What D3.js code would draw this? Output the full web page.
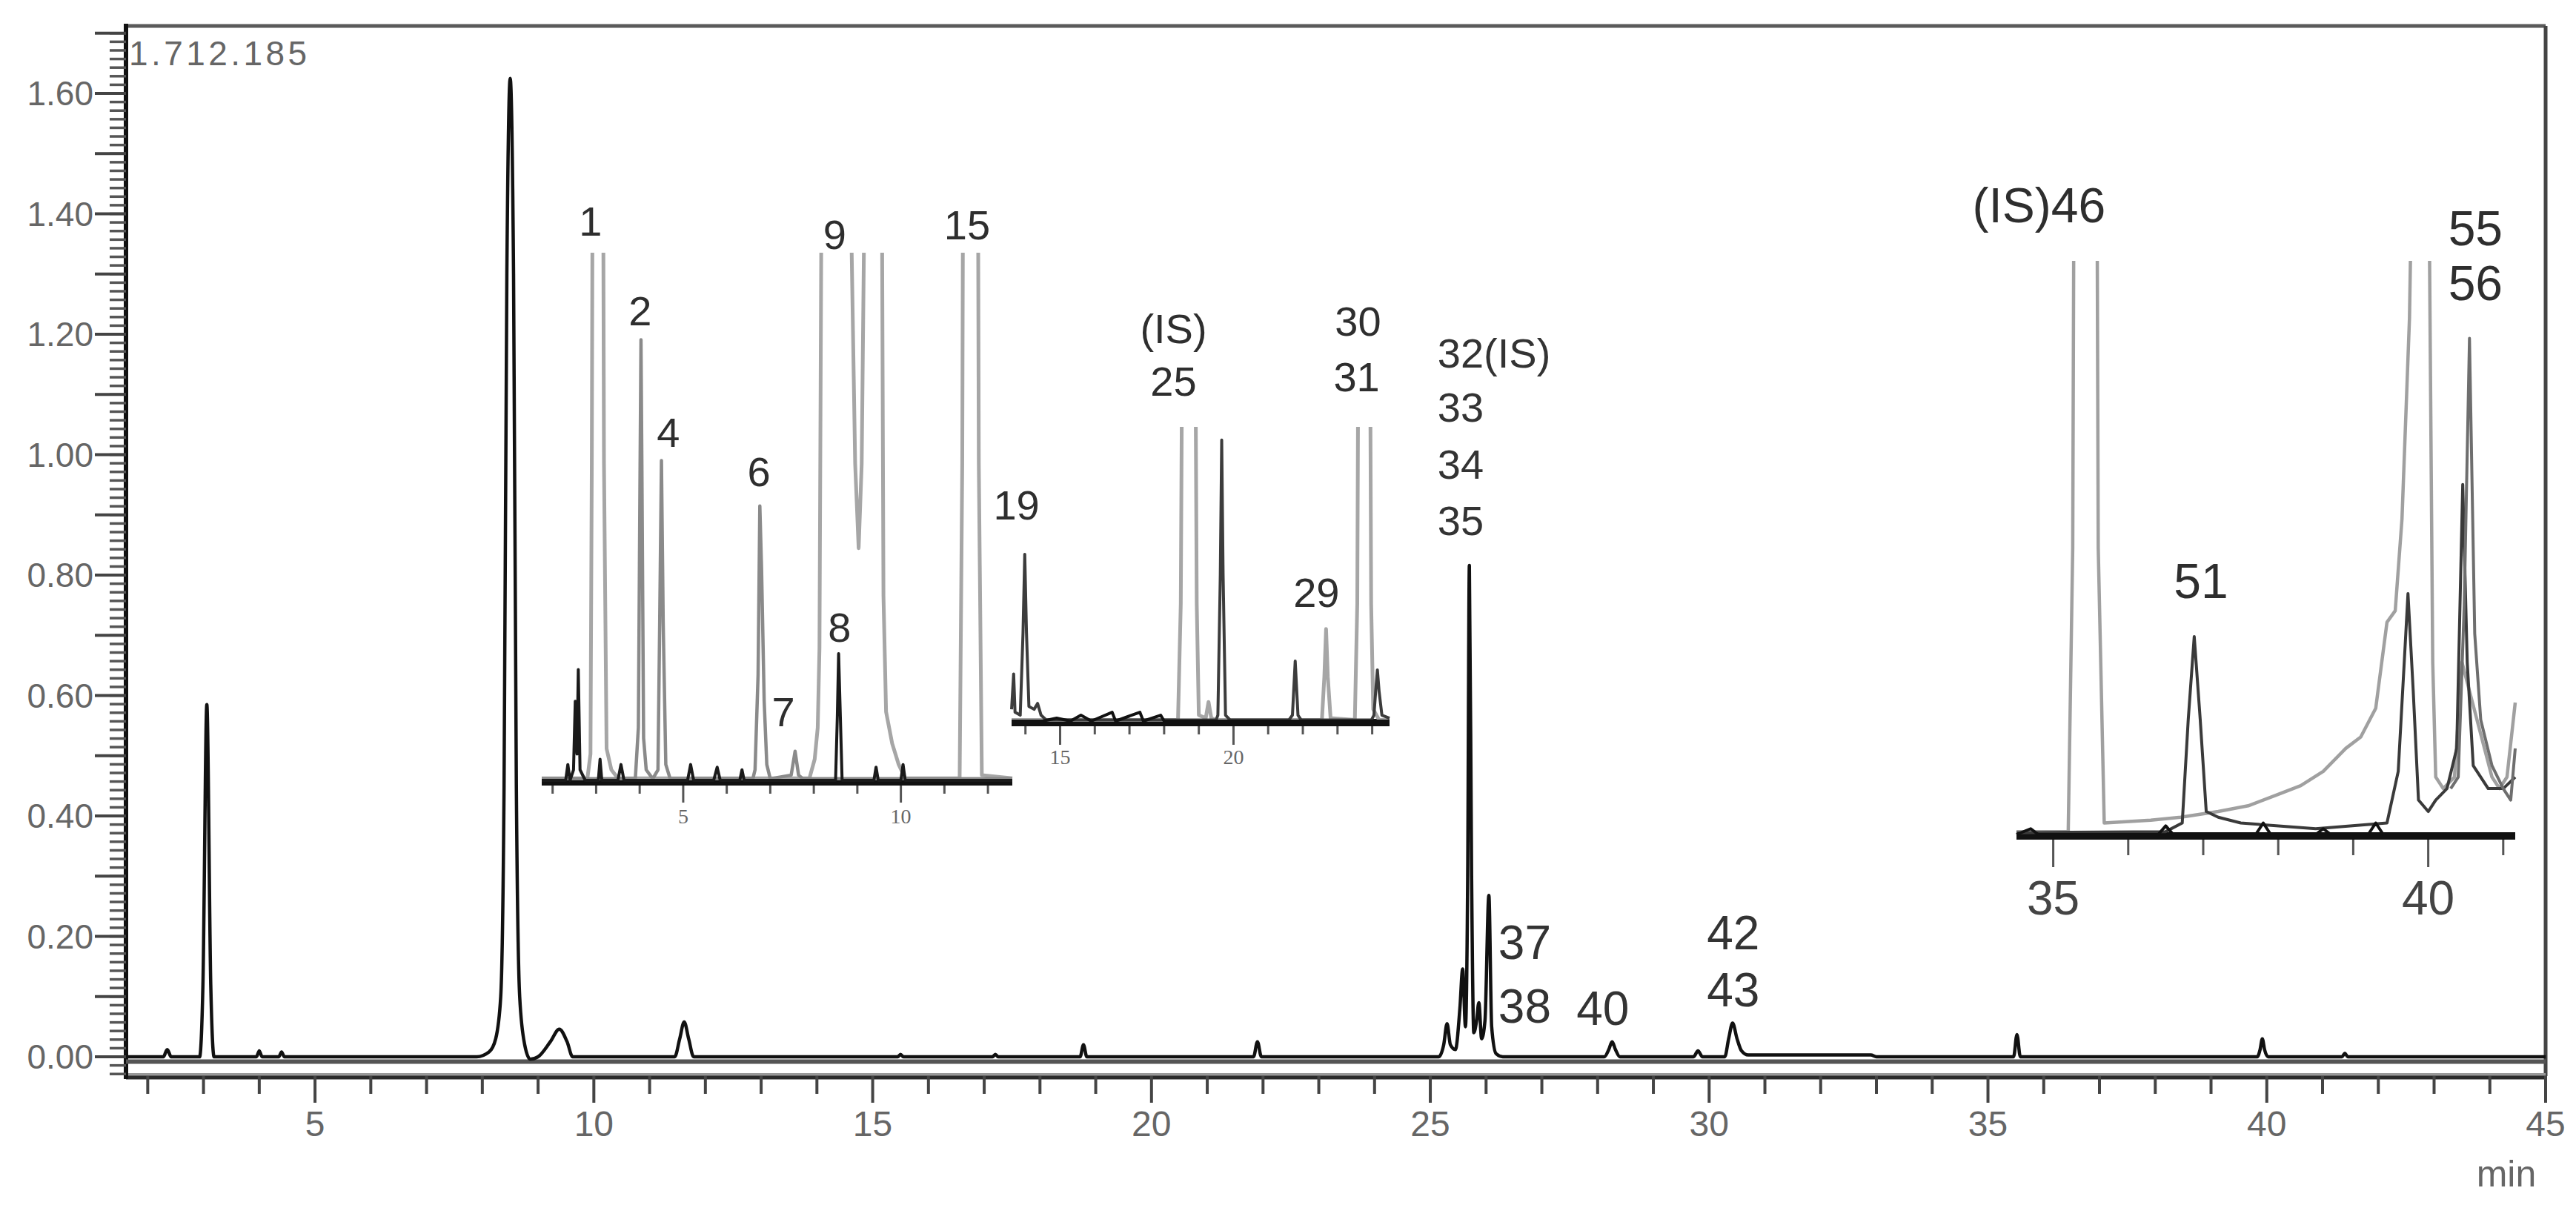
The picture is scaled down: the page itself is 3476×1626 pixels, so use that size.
<!DOCTYPE html>
<html><head><meta charset="utf-8">
<script src="https://cdn.jsdelivr.net/npm/d3@7/dist/d3.min.js"></script>
<style>body{margin:0;background:#fff}svg{display:block}</style>
</head><body>
<svg id="c" width="3476" height="1626"></svg>
<script>
// ---------- DATA ----------
const yMajorTicks = [0.00,0.20,0.40,0.60,0.80,1.00,1.20,1.40,1.60];
const yMidTicks = [0.10,0.30,0.50,0.70,0.90,1.10,1.30,1.50,1.70];
const xTickLabels = [5,10,15,20,25,30,35,40,45];
const topValueLabel = "1.712.185";
const xUnit = "min";

// main chromatogram [time(min), intensity]
const mainTrace = [
[1.61,0],[2.28,0],[2.35,0.012],[2.42,0],[2.93,0],[2.99,0.12],[3.06,0.585],[3.13,0.12],[3.19,0],
[3.95,0],[4.0,0.01],[4.05,0],[4.35,0],[4.4,0.008],[4.45,0],[7.9,0],[8.12,0.008],[8.24,0.03],[8.33,0.1],
[8.39,0.45],[8.44,1.3],[8.5,1.625],[8.56,1.3],[8.61,0.45],[8.67,0.1],[8.76,0.02],[8.86,-0.004],[9.0,0],
[9.22,0.025],[9.38,0.046],[9.52,0.025],[9.62,0],[11.45,0],[11.54,0.03],[11.62,0.058],[11.7,0.03],[11.79,0],
[15.45,0],[15.5,0.004],[15.55,0],[17.15,0],[17.2,0.004],[17.25,0],[18.72,0],[18.78,0.02],[18.84,0],
[21.83,0],[21.9,0.025],[21.97,0],[25.15,0],[25.24,0.02],[25.3,0.055],[25.36,0.02],[25.45,0.012],
[25.53,0.08],[25.58,0.146],[25.63,0.05],[25.67,0.3],[25.7,0.816],[25.74,0.3],[25.78,0.04],[25.83,0.06],
[25.87,0.09],[25.92,0.03],[25.98,0.06],[26.05,0.268],[26.1,0.05],[26.18,0.005],[26.3,0],
[28.12,0],[28.2,0.012],[28.26,0.025],[28.32,0.012],[28.4,0],[29.72,0],[29.8,0.01],[29.88,0],
[30.28,0],[30.35,0.03],[30.42,0.056],[30.5,0.03],[30.58,0.01],[30.7,0.003],[32.9,0.003],[33.0,0],
[35.46,0],[35.52,0.037],[35.58,0],[39.83,0],[39.88,0.012],[39.92,0.03],[39.96,0.012],[40.02,0],
[41.35,0],[41.4,0.006],[41.45,0],[45,0]];
const mainShadow = [[1.61,-0.008],[45,-0.008]];

const mainStackLabels = [["32(IS)",25.13,1.169],["33",25.13,1.079],["34",25.13,0.984],["35",25.13,0.891]];
const mainPeakLabels = [["37",26.22,0.189],["38",26.22,0.084],["40",27.62,0.08],["42",29.96,0.205],["43",29.96,0.111]];

// inset 1 (2 - 12.5 min)
const inset1Ticks = [2,3,4,5,6,7,8,9,10,11,12];
const inset1TickLabels = [5,10];
const inset1Light = [[1.75,0.004],[2.8,0.004],[2.87,0.05],[2.9,0.6],[2.93,1.5],[3.04,2.2],[3.15,1.5],[3.18,0.6],[3.24,0.06],[3.35,0.02],[3.5,0.004],
[7.9,0.004],[8.02,0.04],[8.09,0.1],[8.13,0.25],[8.17,1.0],[8.2,1.6],[8.5,2.5],[8.8,1.6],[8.87,1.0],[8.95,0.6],[9.03,0.44],[9.1,0.6],[9.15,1.0],
[9.2,1.6],[9.36,2.2],[9.52,1.6],[9.57,1.0],[9.6,0.35],[9.66,0.13],[9.8,0.07],[9.95,0.03],[10.1,0.004],
[11.35,0.004],[11.41,0.6],[11.44,1.5],[11.6,2.2],[11.76,1.5],[11.79,0.6],[11.86,0.01],[12.56,0.004]];
const inset1Mid = [[1.75,0.003],[3.9,0.003],[3.97,0.1],[4.01,0.6],[4.03,0.835],[4.05,0.6],[4.09,0.08],[4.15,0.02],[4.3,0.003],
[4.42,0.02],[4.46,0.3],[4.5,0.606],[4.54,0.3],[4.6,0.03],[4.7,0.003],[6.6,0.003],[6.65,0.02],[6.72,0.2],[6.76,0.52],[6.8,0.4],[6.86,0.15],[6.92,0.03],[7.0,0.003],
[7.48,0.01],[7.57,0.055],[7.65,0.01],[7.75,0.003],[12.56,0.003]];
const inset1Dark = [[1.75,0],[2.3,0],[2.35,0.03],[2.4,0],[2.48,0.02],[2.52,0.15],[2.56,0.05],[2.59,0.21],[2.63,0.02],[2.75,0],
[3.05,0],[3.09,0.04],[3.13,0],[3.5,0],[3.57,0.03],[3.64,0],[5.1,0],[5.17,0.03],[5.24,0],[5.7,0],[5.78,0.025],[5.85,0],
[6.3,0],[6.35,0.02],[6.4,0],[8.5,0],[8.54,0.12],[8.57,0.24],[8.61,0.12],[8.65,0],[9.38,0],[9.43,0.025],[9.48,0],
[10.0,0],[10.05,0.03],[10.1,0],[12.56,0]];
const inset1Labels = [["1",2.87,1.06],["2",4.01,0.89],["4",4.66,0.66],["6",6.74,0.585],["7",7.3,0.13],["8",8.59,0.29],["9",8.48,1.035],["15",11.52,1.053]];

// inset 2 (13.6 - 24.5 min)
const inset2Ticks = [14,15,16,17,18,19,20,21,22,23,24];
const inset2TickLabels = [15,20];
const inset2Light = [[13.6,0.004],[18.4,0.004],[18.48,0.4],[18.52,1.3],[18.71,2.2],[18.9,1.3],[18.94,0.4],[19.0,0.02],[19.2,0.01],[19.28,0.065],[19.36,0.01],[19.5,0.004],
[22.55,0.004],[22.62,0.15],[22.67,0.313],[22.72,0.15],[22.8,0.01],[23.5,0.004],[23.57,0.4],[23.6,1.3],[23.77,2.2],[23.94,1.3],[23.97,0.4],[24.03,0.04],[24.2,0.004],[24.5,0.004]];
const inset2Dark = [[13.6,0.04],[13.66,0.16],[13.7,0.03],[13.85,0.02],[13.93,0.3],[13.98,0.567],[14.03,0.3],[14.1,0.05],[14.25,0.04],[14.35,0.06],[14.45,0.02],[14.6,0.004],
[19.5,0.004],[19.55,0.02],[19.62,0.5],[19.66,0.955],[19.7,0.5],[19.77,0.02],[19.9,0.004],[21.6,0.004],[21.7,0.02],[21.78,0.204],[21.86,0.02],[21.95,0.004],
[23.98,0.004],[24.05,0.02],[24.1,0.1],[24.15,0.174],[24.2,0.1],[24.28,0.02],[24.5,0.01]];
const inset2Black = [[13.6,0],[14.5,0],[14.9,0.01],[15.3,0],[15.6,0.02],[15.9,0],[16.5,0.03],[16.6,0],[17.3,0.03],[17.4,0],[17.9,0.02],[18.0,0],[24.5,0]];
const inset2Labels = [["19",13.74,0.733],["(IS)",18.27,1.335],["25",18.27,1.156],["30",23.59,1.36],["31",23.55,1.17],["29",22.39,0.438]];

// inset 3 (34.5 - 41.2 min)
const inset3Ticks = [35,36,37,38,39,40,41];
const inset3TickLabels = [35,40];
const inset3Light = [[34.51,0.005],[35.2,0.005],[35.26,0.5],[35.28,1.3],[35.43,2],[35.58,1.3],[35.6,0.5],[35.68,0.02],[36.3,0.025],[36.7,0.03],
[37.2,0.04],[37.6,0.05],[38.0,0.07],[38.3,0.085],[38.6,0.11],[38.9,0.15],[39.1,0.17],[39.3,0.22],[39.45,0.37],[39.56,0.39],[39.65,0.55],
[39.75,0.9],[39.8,1.3],[39.92,2],[40.0,1.3],[40.03,0.8],[40.06,0.3],[40.1,0.1],[40.2,0.08],[40.35,0.1],[40.45,0.3],[40.55,0.25],
[40.65,0.2],[40.75,0.15],[40.85,0.1],[40.95,0.08],[41.05,0.1],[41.16,0.23]];
const inset3Dark = [[34.51,0.003],[36.5,0.005],[36.72,0.02],[36.8,0.2],[36.88,0.345],[36.96,0.2],[37.04,0.04],[37.2,0.03],[37.5,0.02],
[38.5,0.01],[39.45,0.02],[39.6,0.11],[39.68,0.3],[39.73,0.42],[39.8,0.25],[39.87,0.06],[40.0,0.04],[40.1,0.06],[40.25,0.08],
[40.38,0.15],[40.46,0.61],[40.52,0.3],[40.6,0.12],[40.8,0.08],[41.0,0.08],[41.16,0.1]];
const inset3Mid = [[40.3,0.08],[40.4,0.1],[40.48,0.4],[40.55,0.865],[40.62,0.35],[40.7,0.2],[40.85,0.12],[41.0,0.08],[41.1,0.06],[41.16,0.15]];
const inset3Black = [[34.51,0],[34.7,0.01],[34.8,0],[36.4,0],[36.5,0.015],[36.6,0],[37.7,0],[37.8,0.02],[37.9,0],[38.5,0],[38.6,0.01],[38.7,0],[39.2,0],[39.3,0.02],[39.4,0],[41.16,0]];
const inset3Labels = [["(IS)46",34.81,1.097],["51",36.97,0.442],["55",40.63,1.057],["56",40.63,0.961]];

// ---------- DRAW ----------
const svg = d3.select("#c");
const FONT = "'Liberation Sans', Arial, sans-serif";
svg.append("rect").attr("width",3476).attr("height",1626).attr("fill","#fff");

const x = d3.scaleLinear().domain([1.61,45]).range([170,3435]);
const y = d3.scaleLinear().domain([-0.032,1.712]).range([1452,35]);

const g = svg.append("g");
// frame
g.append("line").attr("x1",x.range()[0]).attr("x2",x.range()[1]).attr("y1",y.range()[1]).attr("y2",y.range()[1]).attr("stroke","#5a5a5a").attr("stroke-width",5);
g.append("line").attr("x1",x.range()[1]).attr("x2",x.range()[1]).attr("y1",y.range()[1]).attr("y2",y.range()[0]).attr("stroke","#444").attr("stroke-width",5);
g.append("line").attr("x1",x.range()[0]).attr("x2",x.range()[1]).attr("y1",y.range()[0]-2).attr("y2",y.range()[0]-2).attr("stroke","#999").attr("stroke-width",4);
g.append("line").attr("x1",x.range()[0]).attr("x2",x.range()[1]).attr("y1",y.range()[0]+2).attr("y2",y.range()[0]+2).attr("stroke","#2a2a2a").attr("stroke-width",5);
g.append("line").attr("x1",x.range()[0]).attr("x2",x.range()[0]).attr("y1",y.range()[1]-3).attr("y2",y.range()[0]+4).attr("stroke","#111").attr("stroke-width",6);

// y ticks
const yMinorVals = d3.range(-0.0286, 1.712, 0.1/7);
yMinorVals.forEach(v => {
  g.append("line").attr("x1",x.range()[0]-22).attr("x2",x.range()[0]).attr("y1",y(v)).attr("y2",y(v)).attr("stroke","#555").attr("stroke-width",3.5);
});
yMajorTicks.concat(yMidTicks).forEach(v => {
  g.append("line").attr("x1",x.range()[0]-42).attr("x2",x.range()[0]).attr("y1",y(v)).attr("y2",y(v)).attr("stroke","#444").attr("stroke-width",4);
});
yMajorTicks.forEach(v => {
  g.append("text").attr("x",x.range()[0]-44).attr("y",y(v)).attr("text-anchor","end").attr("dominant-baseline","central")
   .attr("font-family",FONT).attr("font-size",46).attr("fill","#666").text(v.toFixed(2));
});
// x ticks
d3.range(2,46,1).forEach(t => {
  const major = xTickLabels.includes(t);
  g.append("line").attr("x1",x(t)).attr("x2",x(t)).attr("y1",y.range()[0]).attr("y2",y.range()[0]+(major?36:24)).attr("stroke","#444").attr("stroke-width",4);
});
xTickLabels.forEach(t => {
  g.append("text").attr("x",x(t)).attr("y",y.range()[0]+64).attr("text-anchor","middle").attr("dominant-baseline","central")
   .attr("font-family",FONT).attr("font-size",48).attr("fill","#666").text(t);
});
g.append("text").attr("x",3382).attr("y",1584).attr("text-anchor","middle").attr("dominant-baseline","central")
 .attr("font-family",FONT).attr("font-size",50).attr("fill","#666").text(xUnit);
g.append("text").attr("x",x.range()[0]+4).attr("y",72).attr("dominant-baseline","central")
 .attr("font-family",FONT).attr("font-size",46).attr("fill","#666").attr("textLength",240).attr("lengthAdjust","spacing").text(topValueLabel);

// main traces
const mline = d3.line().x(d=>x(d[0])).y(d=>y(d[1])).curve(d3.curveMonotoneX);
g.append("path").datum(mainShadow).attr("d",mline).attr("fill","none").attr("stroke","#555").attr("stroke-width",6);
g.append("path").datum(mainTrace).attr("d",mline).attr("fill","none").attr("stroke","#111").attr("stroke-width",4.5).attr("stroke-linejoin","round");

function labels(arr, sx, sy, size, anchor, color){
  arr.forEach(l => {
    g.append("text").attr("x",sx(l[1])).attr("y",sy(l[2])).attr("text-anchor",anchor).attr("dominant-baseline","central")
     .attr("font-family",FONT).attr("font-size",size).attr("fill",color).text(l[0]);
  });
}
labels(mainStackLabels, x, y, 56, "start", "#333");
labels(mainPeakLabels, x, y, 64, "start", "#333");

function inset(id, sx, sy, traces, ticks, tickLabels, labs, opt){
  const clip = svg.append("clipPath").attr("id",id);
  clip.append("rect").attr("x",sx.range()[0]-5).attr("y",sy(1)).attr("width",sx.range()[1]-sx.range()[0]+10).attr("height",sy(0)-sy(1)+40);
  const ig = g.append("g");
  ticks.forEach(t => {
    const major = tickLabels.includes(t);
    ig.append("line").attr("x1",sx(t)).attr("x2",sx(t)).attr("y1",sy(0)).attr("y2",sy(0)+(major?opt.longTick:opt.shortTick))
      .attr("stroke","#555").attr("stroke-width",3);
  });
  tickLabels.forEach(t => {
    ig.append("text").attr("x",sx(t)).attr("y",sy(0)+opt.labelOff).attr("text-anchor","middle").attr("dominant-baseline","central")
      .attr("font-family",opt.tickFont).attr("font-size",opt.tickSize).attr("fill",opt.tickColor).text(t);
  });
  ig.append("line").attr("x1",sx.range()[0]).attr("x2",sx.range()[1]).attr("y1",sy(0)+2).attr("y2",sy(0)+2).attr("stroke","#111").attr("stroke-width",opt.baseW);
  const cg = ig.append("g").attr("clip-path",`url(#${id})`);
  const ln = d3.line().x(d=>sx(d[0])).y(d=>sy(d[1]));
  traces.forEach(tr => {
    cg.append("path").datum(tr.data).attr("d",ln).attr("fill","none").attr("stroke",tr.color).attr("stroke-width",tr.w).attr("stroke-linejoin","round");
  });
  labels(labs, sx, sy, opt.labSize, "middle", "#2e2e2e");
}

const i1x = d3.scaleLinear().domain([1.75,12.56]).range([731,1366]);
const i1y = d3.scaleLinear().domain([0,1]).range([1053,341]);
inset("clip1", i1x, i1y, [
  {data:inset1Light,color:"#a6a6a6",w:5},
  {data:inset1Mid,color:"#8a8a8a",w:4.5},
  {data:inset1Dark,color:"#1a1a1a",w:4}
], inset1Ticks, inset1TickLabels, inset1Labels,
{shortTick:18,longTick:30,labelOff:48,tickFont:"'Liberation Serif', serif",tickSize:28,tickColor:"#666",baseW:10,labSize:56});

const i2x = d3.scaleLinear().domain([13.6,24.5]).range([1365,1875]);
const i2y = d3.scaleLinear().domain([0,1]).range([973,576]);
inset("clip2", i2x, i2y, [
  {data:inset2Light,color:"#a6a6a6",w:5},
  {data:inset2Dark,color:"#3c3c3c",w:4},
  {data:inset2Black,color:"#111",w:4}
], inset2Ticks, inset2TickLabels, inset2Labels,
{shortTick:18,longTick:32,labelOff:48,tickFont:"'Liberation Serif', serif",tickSize:28,tickColor:"#666",baseW:10,labSize:56});

const i3x = d3.scaleLinear().domain([34.51,41.16]).range([2721,3394]);
const i3y = d3.scaleLinear().domain([0,1]).range([1126,352]);
inset("clip3", i3x, i3y, [
  {data:inset3Light,color:"#a0a0a0",w:4.5},
  {data:inset3Dark,color:"#3a3a3a",w:4},
  {data:inset3Mid,color:"#6e6e6e",w:4},
  {data:inset3Black,color:"#111",w:4}
], inset3Ticks, inset3TickLabels, inset3Labels,
{shortTick:28,longTick:44,labelOff:86,tickFont:FONT,tickSize:64,tickColor:"#444",baseW:10,labSize:66});
</script>
</body></html>
